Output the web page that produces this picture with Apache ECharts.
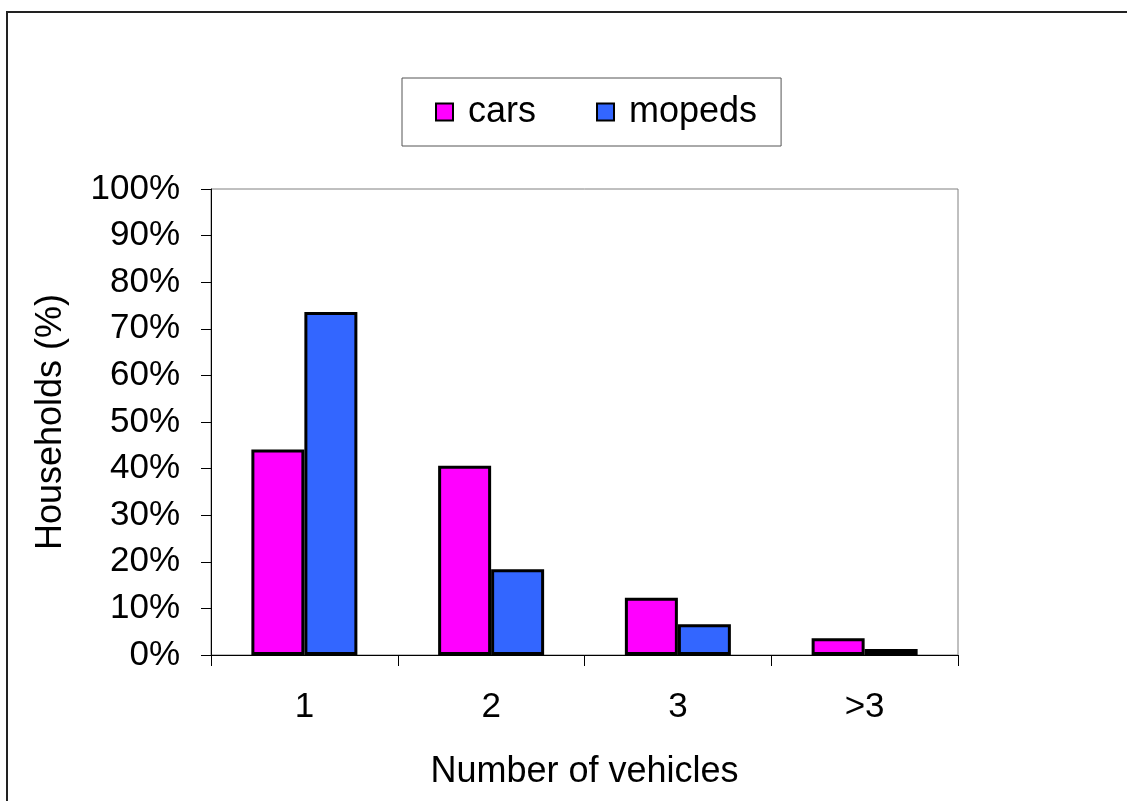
<!DOCTYPE html>
<html>
<head>
<meta charset="utf-8">
<script src="https://cdn.jsdelivr.net/npm/echarts@6/dist/echarts.min.js"></script>
<style>
    html, body { margin: 0; padding: 0; background: #fff; }
    #chart { width: 1127px; height: 801px; }
</style>
</head>
<body>
<div id="chart"></div>
<script>
// households by number of vehicles owned
var categories = ['1', '2', '3', '>3'];
var carsData = [44.1, 40.6, 12.3, 3.6];
var mopedsData = [73.6, 18.4, 6.6, 1.3];
var legendData = ['cars', 'mopeds'];

var font = 'Liberation Sans, Arial, sans-serif';
var chart = echarts.init(document.getElementById('chart'));

var option = {
    backgroundColor: '#fff',
    animation: false,
    color: ['#FF00FF', '#3366FF'],
    graphic: [{
        type: 'rect',
        shape: { x: 7, y: 12, width: 1300, height: 1000 },
        style: { fill: 'none', stroke: '#222', lineWidth: 2 },
        silent: true
    }],
    legend: {
        data: legendData,
        left: 402,
        top: 78,
        orient: 'horizontal',
        icon: 'rect',
        itemWidth: 17,
        itemHeight: 17,
        itemGap: 60,
        padding: [16, 24, 16, 33],
        borderColor: '#555',
        borderWidth: 1,
        itemStyle: { borderColor: '#000', borderWidth: 2 },
        textStyle: {
            fontFamily: font,
            fontSize: 36,
            color: '#000',
            padding: [0, 0, 0, 10]
        }
    },
    grid: {
        left: 211,
        top: 189,
        right: 169,
        bottom: 146,
        show: true,
        borderColor: '#808080',
        borderWidth: 1
    },
    xAxis: {
        type: 'category',
        data: categories,
        name: 'Number of vehicles',
        nameLocation: 'middle',
        nameGap: 99,
        nameTextStyle: { fontFamily: font, fontSize: 36, color: '#000' },
        axisLine: { lineStyle: { color: '#000', width: 1 } },
        axisTick: { show: true, length: 11, lineStyle: { color: '#000' } },
        axisLabel: { fontFamily: font, fontSize: 35, color: '#000', margin: 35 },
        splitLine: { show: false }
    },
    yAxis: {
        type: 'value',
        min: 0,
        max: 100,
        interval: 10,
        name: 'Households (%)',
        nameLocation: 'middle',
        nameGap: 142,
        nameTextStyle: { fontFamily: font, fontSize: 36, color: '#000' },
        axisLine: { show: true, lineStyle: { color: '#000', width: 1 } },
        axisTick: { show: true, length: 10, lineStyle: { color: '#000' } },
        axisLabel: {
            fontFamily: font,
            fontSize: 35,
            color: '#000',
            margin: 31,
            formatter: '{value}%'
        },
        splitLine: { show: false }
    },
    series: [
        {
            name: legendData[0],
            type: 'bar',
            data: carsData,
            barWidth: 53,
            barGap: 0,
            itemStyle: { borderColor: '#000', borderWidth: 3 }
        },
        {
            name: legendData[1],
            type: 'bar',
            data: mopedsData,
            barWidth: 53,
            barGap: 0,
            itemStyle: { borderColor: '#000', borderWidth: 3 }
        }
    ]
};
chart.setOption(option);
</script>
</body>
</html>
